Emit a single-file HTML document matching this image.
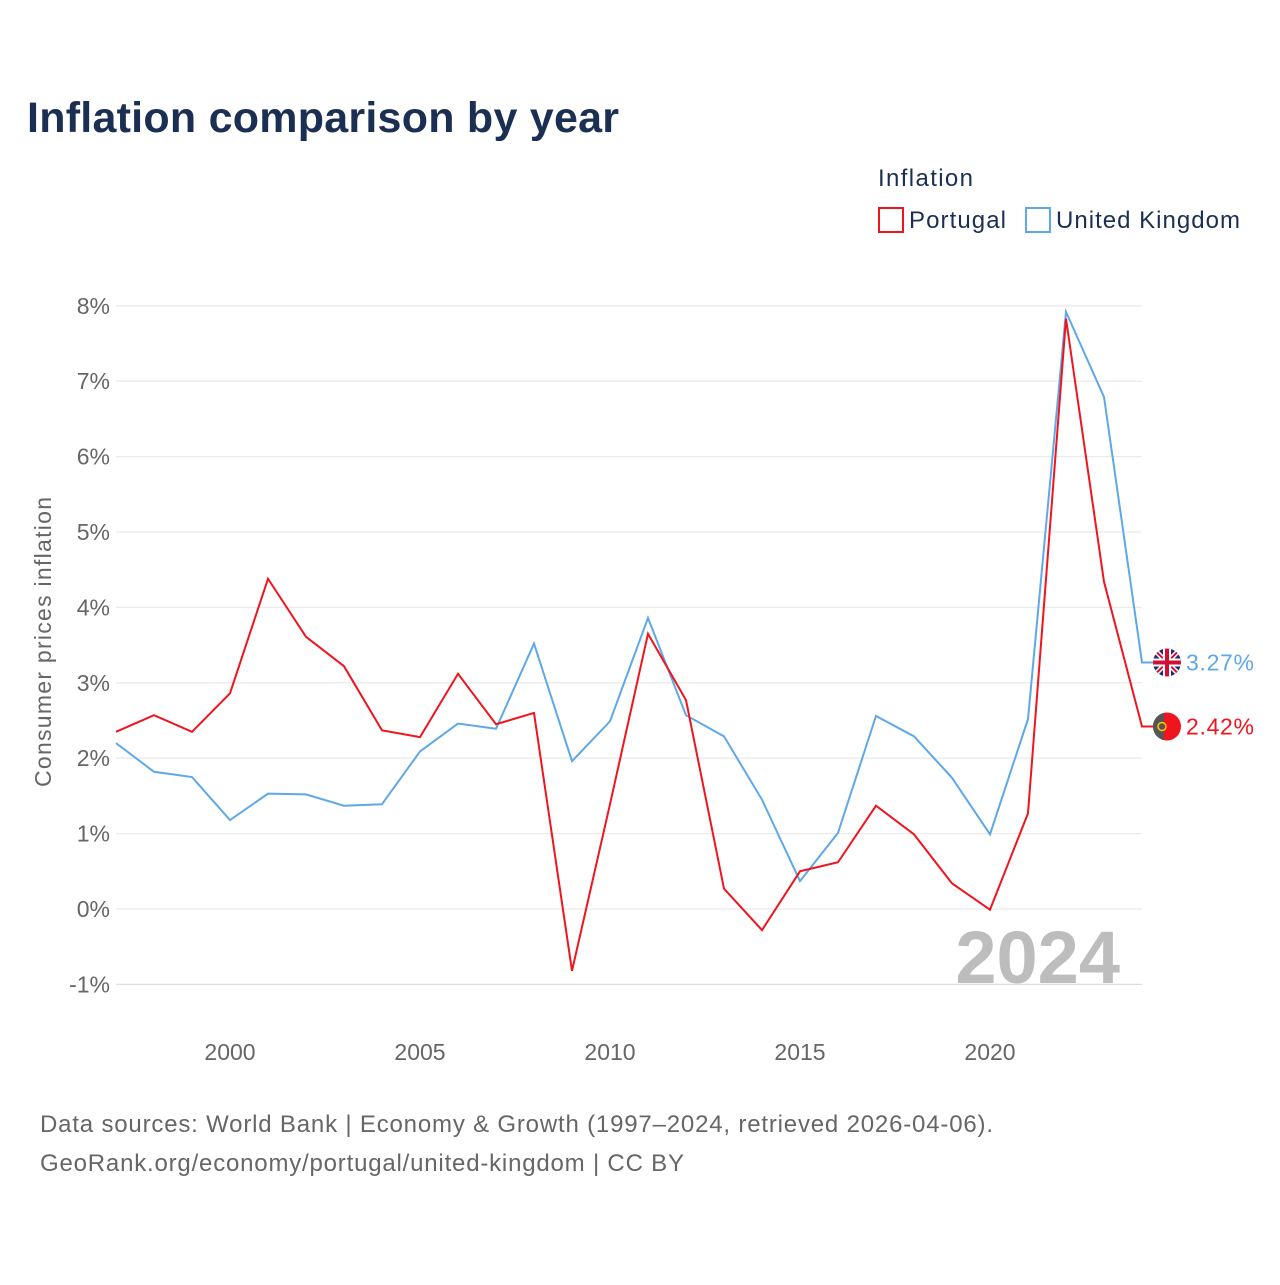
<!DOCTYPE html>
<html><head><meta charset="utf-8"><style>
body{margin:0;width:1280px;height:1280px;background:#fff;font-family:"Liberation Sans",sans-serif;overflow:hidden}
</style></head><body>
<svg width="1280" height="1280" xmlns="http://www.w3.org/2000/svg">
<defs><clipPath id="ukc"><circle cx="0" cy="0" r="14"/></clipPath><clipPath id="ptc"><circle cx="0" cy="0" r="14"/></clipPath></defs>
<text x="27" y="132" font-size="43" font-weight="bold" fill="#1b2f52" textLength="592">Inflation comparison by year</text>
<text x="878" y="186" font-size="24" fill="#1b2f52" textLength="95">Inflation</text>
<g><rect x="879" y="208" width="24" height="24" fill="none" stroke="#f0141e" stroke-width="2"/><text x="909" y="228" font-size="24" fill="#1b2f52" textLength="97">Portugal</text></g>
<g><rect x="1026" y="208" width="24" height="24" fill="none" stroke="#5fa8e8" stroke-width="2"/><text x="1056" y="228" font-size="24" fill="#1b2f52" textLength="184">United Kingdom</text></g>
<g id="grid"></g><g id="yt"></g><g id="xt"></g>
<text transform="translate(51,642) rotate(-90)" text-anchor="middle" font-size="23" fill="#666" textLength="290">Consumer prices inflation</text>
<text x="1120" y="983" text-anchor="end" font-size="74" font-weight="bold" fill="#bdbdbd">2024</text>
<g id="lines"></g>
<text x="40" y="1132" font-size="24" fill="#666" textLength="953">Data sources: World Bank | Economy &amp; Growth (1997–2024, retrieved 2026-04-06).</text>
<text x="40" y="1171" font-size="24" fill="#666" textLength="644">GeoRank.org/economy/portugal/united-kingdom | CC BY</text>
</svg>
<script>
const years=[1997,1998,1999,2000,2001,2002,2003,2004,2005,2006,2007,2008,2009,2010,2011,2012,2013,2014,2015,2016,2017,2018,2019,2020,2021,2022,2023,2024];
const portugal=[2.35,2.57,2.35,2.86,4.38,3.61,3.22,2.37,2.28,3.12,2.45,2.6,-0.82,1.39,3.65,2.77,0.27,-0.28,0.5,0.62,1.37,0.99,0.34,-0.01,1.27,7.83,4.34,2.42];
const uk=[2.2,1.82,1.75,1.18,1.53,1.52,1.37,1.39,2.09,2.46,2.39,3.52,1.96,2.49,3.86,2.57,2.29,1.45,0.37,1.01,2.56,2.29,1.74,0.99,2.52,7.92,6.79,3.27];
const yTicks=[-1,0,1,2,3,4,5,6,7,8];
const xTicks=[2000,2005,2010,2015,2020];
const NS="http://www.w3.org/2000/svg";
const X=y=>116+(y-1997)*38, Y=v=>909-v*75.4;
function mk(t,a,p){const e=document.createElementNS(NS,t);for(const k in a)e.setAttribute(k,a[k]);p.appendChild(e);return e;}
const g=document.getElementById('grid'),yt=document.getElementById('yt'),xt=document.getElementById('xt'),L=document.getElementById('lines');
yTicks.forEach(v=>{
 const l=mk('line',{x1:116,x2:1142,y1:Y(v),y2:Y(v),stroke:v==-1?'#ddd':'#ebebeb','stroke-width':1.3},g);
 
 
 const t=mk('text',{x:110,y:Y(v)+8,'text-anchor':'end','font-size':23,fill:'#666'},yt);t.textContent=v+'%';
 
 
});
xTicks.forEach(v=>{
 const t=mk('text',{x:X(v),y:1060,'text-anchor':'middle','font-size':23,fill:'#666'},xt);t.textContent=v;
 
 
});
function flag(name,cy){
 const f=mk('g',{transform:'translate(1167,'+cy+')'},L);
 
 
 if(name==='uk'){
  const c=mk('g',{'clip-path':'url(#ukc)'},f);
  mk('rect',{x:-14,y:-14,width:28,height:28,fill:'#1f2a6b'},c);
  mk('path',{d:'M-14,-14L14,14M14,-14L-14,14',stroke:'#fff','stroke-width':5},c);
  mk('path',{d:'M-14,-14L14,14M14,-14L-14,14',stroke:'#d21034','stroke-width':2},c);
  mk('path',{d:'M0,-14V14M-14,0H14',stroke:'#fff','stroke-width':8},c);
  mk('path',{d:'M0,-14V14M-14,0H14',stroke:'#d21034','stroke-width':4},c);
 } else {
  const c=mk('g',{'clip-path':'url(#ptc)'},f);
  mk('rect',{x:-14,y:-14,width:28,height:28,fill:'#f0141e'},c);
  mk('rect',{x:-14,y:-14,width:11,height:28,fill:'#555'},c);
  mk('circle',{cx:-5,cy:0,r:4,fill:'none',stroke:'#f5d000','stroke-width':1.5},c);
 }
}
function series(vals,col,name,label){
 let d=vals.map((v,i)=>(i?'L':'M')+X(years[i])+','+Y(v)).join(' ');
 const last=vals[vals.length-1];
 d+=' L'+(X(2024)+12)+','+Y(last);
 const p=mk('path',{d:d,fill:'none',stroke:col,'stroke-width':2},L);
 
 
 flag(name,Y(last));
 const t=mk('text',{x:1186,y:Y(last)+8,'font-size':23,fill:col,textLength:68},L);t.textContent=label;
 
 
}
series(uk,'#5fa8e8','uk',uk[uk.length-1].toFixed(2)+'%');
series(portugal,'#f0141e','portugal',portugal[portugal.length-1].toFixed(2)+'%');
</script>
</body></html>
